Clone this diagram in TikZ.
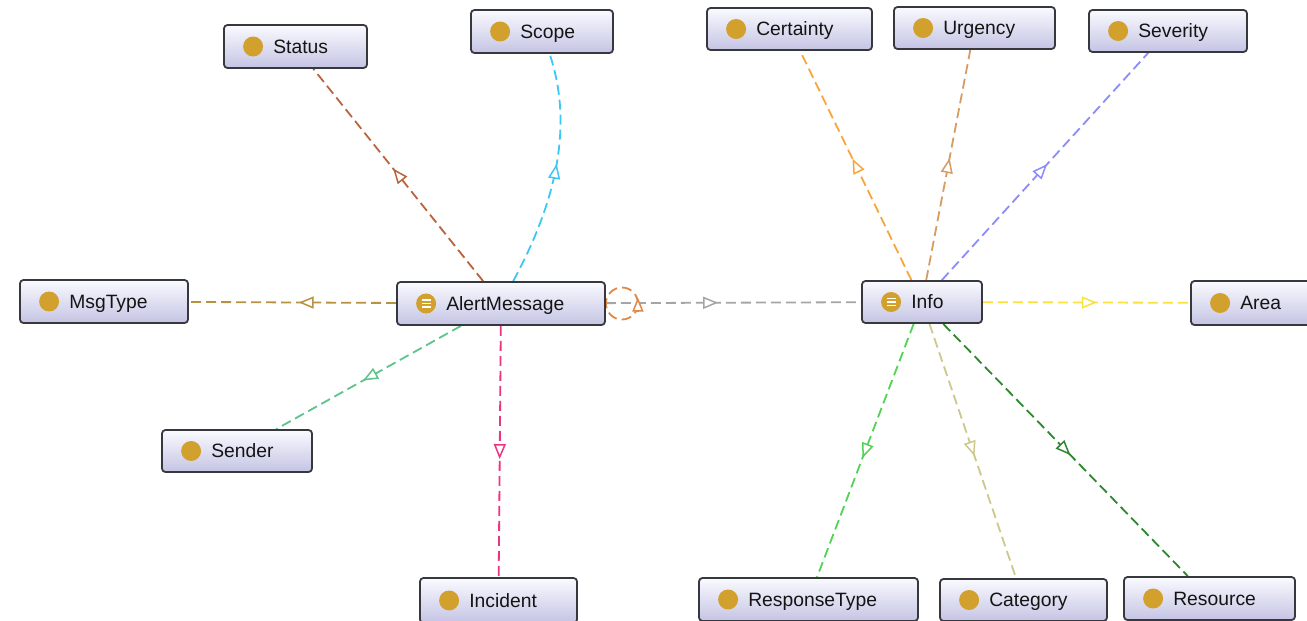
\documentclass[tikz,border=0pt]{standalone}
\usepackage{fontspec}
\setmainfont{Liberation Sans}
\usetikzlibrary{arrows.meta,decorations.markings,calc}
\pgfdeclarelayer{bg}
\pgfdeclarelayer{edges}
\pgfsetlayers{bg,edges,main}

\definecolor{gold}{RGB}{210,160,45}
\definecolor{boxline}{RGB}{55,55,62}
\definecolor{boxtop}{RGB}{250,250,255}
\definecolor{boxbot}{RGB}{196,196,228}
\definecolor{labtext}{RGB}{20,20,20}
\definecolor{cStat}{RGB}{185,100,60}
\definecolor{cScope}{RGB}{60,200,245}
\definecolor{cMsg}{RGB}{185,145,65}
\definecolor{cSender}{RGB}{95,195,140}
\definecolor{cInc}{RGB}{240,50,130}
\definecolor{cLoop}{RGB}{225,135,70}
\definecolor{cGray}{RGB}{165,165,165}
\definecolor{cCert}{RGB}{250,165,60}
\definecolor{cUrg}{RGB}{215,155,100}
\definecolor{cSev}{RGB}{140,140,250}
\definecolor{cArea}{RGB}{250,225,60}
\definecolor{cResp}{RGB}{85,210,85}
\definecolor{cCat}{RGB}{205,200,140}
\definecolor{cRes}{RGB}{45,135,45}

\tikzset{
  box/.style={draw=boxline, line width=1.8pt, rounded corners=3.5pt,
    top color=boxtop, bottom color=boxbot, inner sep=0pt},
  lab/.style={anchor=west, inner sep=0pt, text height=17.3pt, text depth=4pt,
    font=\fontsize{19.3}{21}\selectfont, text=labtext},
  midtip/.tip={Triangle[length=15pt,width=12pt,fill=white,line width=1.5pt]},
  rel/.style n args={2}{draw=#1, line width=1.8pt, dash pattern=on 10pt off 5pt,
    postaction={decorate},
    decoration={markings, mark=at position #2 with {\arrow{midtip}}}},
}

% name, cx, cy, width, height, text
\newcommand\ontonode[6]{%
  \node[box, minimum width=#4pt, minimum height=#5pt] (#1) at (#2,#3) {};
  \fill[gold] ([xshift=30pt]#1.west) circle[radius=10pt];
  \node[lab] (#1-t) at ([xshift=50pt]#1.west) {#6};
}
\newcommand\classnode[6]{%
  \node[box, minimum width=#4pt, minimum height=#5pt] (#1) at (#2,#3) {};
  \fill[gold] ([xshift=30pt]#1.west) circle[radius=10pt];
  \foreach \dy in {-3.5,0,3.5}
    \draw[white, line width=1.3pt] ([xshift=25.5pt,yshift=\dy pt]#1.west) -- ([xshift=34.5pt,yshift=\dy pt]#1.west);
  \node[lab] (#1-t) at ([xshift=50pt]#1.west) {#6};
}

\begin{document}
\begin{tikzpicture}[x=1pt,y=-1pt]
\useasboundingbox (0,0) rectangle (1307,621);
\begin{pgfonlayer}{bg}
  \fill[white] (0,0) rectangle (1307,621);
\end{pgfonlayer}
\clip (0,0) rectangle (1307,621);

\ontonode{status}{295.5}{46.5}{143}{43}{Status}
\ontonode{scope}{542}{31.5}{142}{43}{Scope}
\ontonode{cert}{789.5}{29}{165}{42}{Certainty}
\ontonode{urg}{974.5}{28}{161}{42}{Urgency}
\ontonode{sev}{1168}{31}{158}{42}{Severity}
\ontonode{msg}{104}{301.5}{168}{43}{MsgType}
\classnode{am}{501}{303.5}{208}{43}{AlertMessage}
\classnode{info}{922}{302}{120}{42}{Info}
\ontonode{area}{1263}{303}{144}{44}{Area}
\ontonode{sender}{237}{451}{150}{42}{Sender}
\ontonode{inc}{498.5}{600.5}{157}{45}{Incident}
\ontonode{resp}{808.5}{599.5}{219}{43}{ResponseType}
\ontonode{cat}{1023.5}{600}{167}{42}{Category}
\ontonode{res}{1209.5}{598.5}{171}{43}{Resource}

\coordinate (lc) at ([xshift=16pt]am.east);

\begin{pgfonlayer}{edges}
  \draw[rel={cStat}{0.53}] (am) -- (status);
  \draw[rel={cScope}{0.53}] (am) .. controls (560,195) and (572,120) .. (scope);
  \draw[rel={cMsg}{0.47}] (am) -- (msg);
  \draw[rel={cSender}{0.53}] (am) -- (sender);
  \draw[rel={cInc}{0.53}] (am) -- (inc);
  \draw[rel={cGray}{0.44}] (am) -- (info);
  \draw[cLoop, line width=1.8pt, dash pattern=on 10pt off 5pt] (lc) circle[radius=16pt];
  \draw[cLoop, line width=1.5pt, -{Triangle[length=14pt,width=11pt,fill=white]}]
    ([xshift=16pt,yshift=-8pt]lc) -- ([xshift=16pt,yshift=6pt]lc);
  \draw[rel={cCert}{0.53}] (info) -- (cert);
  \draw[rel={cUrg}{0.53}] (info) -- (urg);
  \draw[rel={cSev}{0.51}] (info) -- (sev);
  \draw[rel={cArea}{0.55}] (info) -- (area);
  \draw[rel={cResp}{0.53}] (info) -- (resp);
  \draw[rel={cCat}{0.52}] (info) -- (cat);
  \draw[rel={cRes}{0.52}] (info) -- (res);
\end{pgfonlayer}
\end{tikzpicture}
\end{document}
